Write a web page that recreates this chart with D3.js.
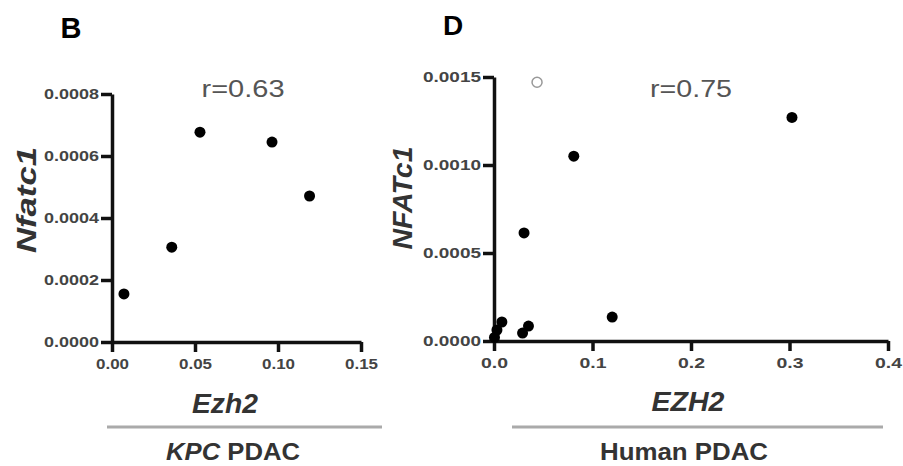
<!DOCTYPE html>
<html><head><meta charset="utf-8">
<script src="https://cdn.jsdelivr.net/npm/d3@7"></script>
<style>body{margin:0;background:#fff}svg{display:block}text{font-family:"Liberation Sans",Arial,sans-serif}
.ax .domain,.ax .tick line{stroke:#111;stroke-width:3.5px}</style>
</head><body>
<svg id="c" width="903" height="466"></svg>
<script>
// Panel B: KPC PDAC
const kpcEzh2   = [0.0072, 0.036, 0.053, 0.0964, 0.119];
const kpcNfatc1 = [0.000155, 0.000306, 0.000677, 0.000645, 0.000471];
const kpcXTicks = [0, 0.05, 0.10, 0.15];
const kpcYTicks = [0, 0.0002, 0.0004, 0.0006, 0.0008];
// Panel D: Human PDAC
const humEzh2   = [0.3025, 0.081, 0.0305, 0.12, 0.008, 0.003, 0.0005, 0.035, 0.029];
const humNfatc1 = [0.00127, 0.00105, 0.000614, 0.000136, 0.000108, 0.0000625, 0.00002, 0.000085, 0.000045];
const humOutlierX = [0.0437];
const humOutlierY = [0.00147];
const humXTicks = [0, 0.1, 0.2, 0.3, 0.4];
const humYTicks = [0, 0.0005, 0.0010, 0.0015];

const svg = d3.select("#c");

function panel(o){
  const x = d3.scaleLinear().domain(o.xd).range(o.xr);
  const y = d3.scaleLinear().domain(o.yd).range(o.yr);
  const g = svg.append("g");
  const ya = g.append("g").attr("class","ax").attr("transform",`translate(${o.xr[0]},0)`)
    .call(d3.axisLeft(y).tickValues(o.yt).tickFormat(d3.format(o.yf)).tickSize(11).tickPadding(2).tickSizeOuter(0));
  const xa = g.append("g").attr("class","ax").attr("transform",`translate(0,${o.yr[0]})`)
    .call(d3.axisBottom(x).tickValues(o.xt).tickFormat(d3.format(o.xf)).tickSize(10).tickPadding(6).tickSizeOuter(0));
  [ya,xa].forEach(a=>{
    a.selectAll(".tick text").attr("fill","#444").attr("font-size",15).attr("font-weight","bold");
  });
  ya.selectAll(".tick text").attr("textLength",o.ytl).attr("lengthAdjust","spacingAndGlyphs");
  xa.selectAll(".tick text").attr("textLength",o.xtl).attr("lengthAdjust","spacingAndGlyphs");
  g.selectAll("circle.p").data(o.xs).join("circle").attr("class","p")
    .attr("cx",(d)=>x(d)).attr("cy",(d,i)=>y(o.ys[i])).attr("r",5.5).attr("fill","#000");
  if(o.ox){
    g.selectAll("circle.o").data(o.ox).join("circle").attr("class","o")
      .attr("cx",d=>x(d)).attr("cy",(d,i)=>y(o.oy[i])).attr("r",5)
      .attr("fill","none").attr("stroke","#999").attr("stroke-width",1.5);
  }
  return {x,y};
}

panel({xd:[0,0.15],xr:[112,361],yd:[0,0.0008],yr:[342,94],xt:kpcXTicks,yt:kpcYTicks,xf:".2f",yf:".4f",
  xs:kpcEzh2,ys:kpcNfatc1,ytl:55,xtl:33});
panel({xd:[0,0.4],xr:[494,888],yd:[0,0.0015],yr:[341,77],xt:humXTicks,yt:humYTicks,xf:".1f",yf:".4f",
  xs:humEzh2,ys:humNfatc1,ox:humOutlierX,oy:humOutlierY,ytl:58,xtl:27});

function txt(t,x,y,o){
  const e = svg.append("text").attr("x",x).attr("y",y).text(t)
    .attr("font-size",o.fs).attr("fill",o.fill||"#333")
    .attr("font-weight",o.fw||"bold").attr("font-style",o.it?"italic":"normal")
    .attr("text-anchor",o.anchor||"middle");
  if(o.tl) e.attr("textLength",o.tl).attr("lengthAdjust","spacingAndGlyphs");
  if(o.rot) e.attr("transform",`rotate(-90,${x},${y})`);
  return e;
}
txt("B",71,38,{fs:29,fill:"#000"});
txt("D",453,35,{fs:28,fill:"#000"});
txt("r=0.63",243,97,{fs:24,fw:"normal",fill:"#555",tl:83});
txt("r=0.75",691,97,{fs:24,fw:"normal",fill:"#555",tl:82});
txt("Nfatc1",36,200,{fs:28,it:true,rot:true,tl:106});
txt("NFATc1",412,198,{fs:28,it:true,rot:true,tl:103});
txt("Ezh2",225,413,{fs:27,it:true,tl:66});
txt("EZH2",688,411,{fs:27,it:true,tl:73});

svg.append("line").attr("x1",107).attr("x2",382).attr("y1",427).attr("y2",427).attr("stroke","#aaa").attr("stroke-width",3);
svg.append("line").attr("x1",512).attr("x2",883).attr("y1",427).attr("y2",427).attr("stroke","#aaa").attr("stroke-width",3);

const k = txt("",233,460,{fs:24,tl:134});
k.append("tspan").attr("font-style","italic").text("KPC");
k.append("tspan").text(" PDAC");
txt("Human PDAC",684,460,{fs:24,tl:168});
</script>
</body></html>
